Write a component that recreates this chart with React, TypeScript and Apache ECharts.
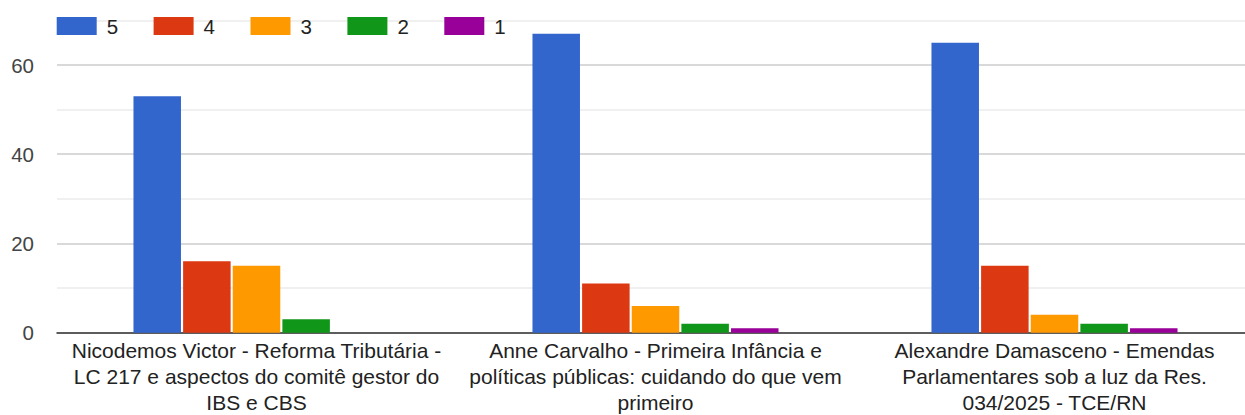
import React, { useEffect, useRef } from "react";
import * as echarts from "echarts";

const categories = [
  "Nicodemos Victor - Reforma Tributária -\nLC 217 e aspectos do comitê gestor do\nIBS e CBS",
  "Anne Carvalho - Primeira Infância e\npolíticas públicas: cuidando do que vem\nprimeiro",
  "Alexandre Damasceno - Emendas\nParlamentares sob a luz da Res.\n034/2025 - TCE/RN",
];
const seriesNames = ["5", "4", "3", "2", "1"];
const values5 = [53, 67, 65];
const values4 = [16, 11, 15];
const values3 = [15, 6, 4];
const values2 = [3, 2, 2];
const values1 = [0, 1, 1];
const colors = ["#3366cc", "#dc3912", "#ff9900", "#109618", "#990099"];

const FONT = "'Liberation Sans', Arial, sans-serif";

export default function App() {
  const ref = useRef<HTMLDivElement>(null);
  useEffect(() => {
    if (!ref.current) return;
    const chart = echarts.init(ref.current, undefined, { renderer: "svg" });
    const all = [values5, values4, values3, values2, values1];
    chart.setOption({
      animation: false,
      textStyle: { fontFamily: FONT },
      color: colors,
      legend: {
        left: 56.7,
        top: 15.5,
        padding: 0,
        itemWidth: 40,
        itemHeight: 18,
        itemGap: 35.5,
        icon: "rect",
        textStyle: {
          fontFamily: FONT,
          fontSize: 20.5,
          color: "#222",
          padding: [0, 0, 0, 5],
        },
        data: seriesNames,
      },
      grid: {
        left: 57,
        top: 20.4,
        width: 1197,
        height: 312.3,
        outerBoundsMode: "none",
        containLabel: false,
      },
      xAxis: {
        type: "category",
        data: categories,
        axisTick: { show: false },
        axisLine: { lineStyle: { color: "#333", width: 1.5 } },
        axisLabel: {
          interval: 0,
          fontFamily: FONT,
          fontSize: 21,
          color: "#222",
          lineHeight: 26,
          margin: 5,
        },
      },
      yAxis: {
        type: "value",
        min: 0,
        max: 70,
        interval: 10,
        axisLine: { show: false },
        axisTick: { show: false },
        axisLabel: {
          fontFamily: FONT,
          fontSize: 20.5,
          color: "#444",
          margin: 23,
          formatter: (v: number) => (v % 20 === 0 ? String(v) : ""),
        },
        splitLine: {
          lineStyle: { color: ["#cccccc", "#ebebeb"], width: 1.5 },
        },
      },
      series: seriesNames.map((n, i) => ({
        name: n,
        type: "bar",
        data: all[i],
        barWidth: 47.5,
        barGap: "4.5%",
        itemStyle: { color: colors[i] },
      })),
    });
    return () => chart.dispose();
  }, []);
  return (
    <div
      ref={ref}
      style={{ position: "absolute", left: 0, top: 0, width: 1245, height: 415, overflow: "hidden" }}
    />
  );
}
